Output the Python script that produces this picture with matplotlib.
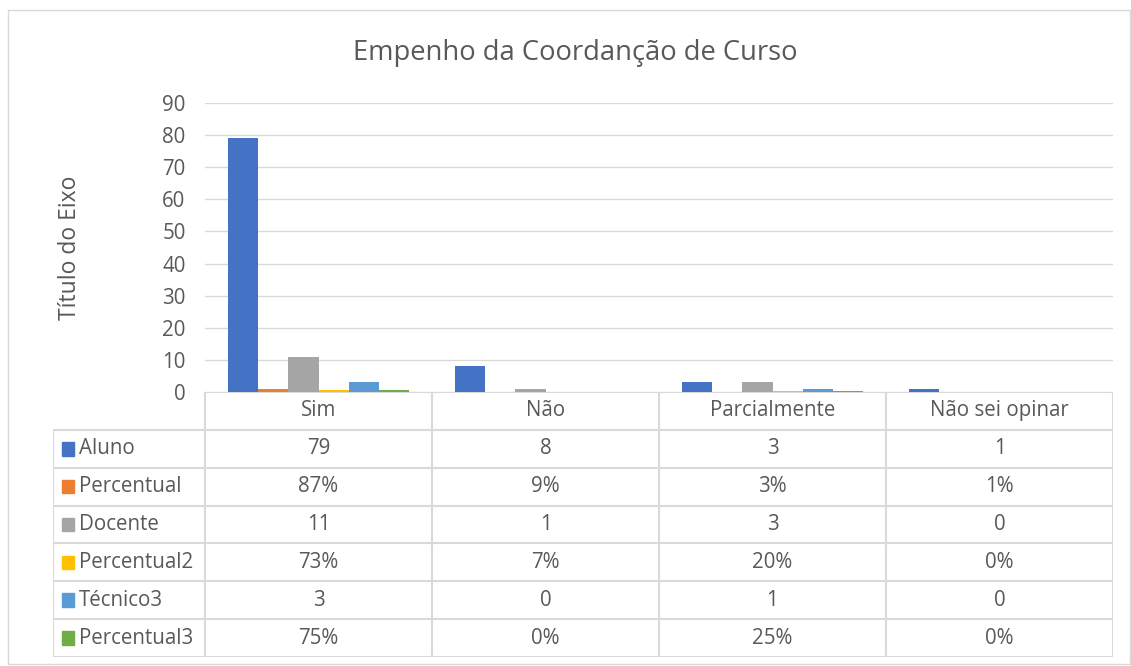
import numpy as np
import matplotlib.pyplot as plt
from matplotlib.patches import Rectangle

plt.rcParams['font.family'] = ['Open Sans', 'DejaVu Sans']

categorias = ['Sim', 'Não', 'Parcialmente', 'Não sei opinar']
series = ['Aluno', 'Percentual', 'Docente', 'Percentual2', 'Técnico3', 'Percentual3']
aluno = [79, 8, 3, 1]
percentual = [0.87, 0.09, 0.03, 0.01]
docente = [11, 1, 3, 0]
percentual2 = [0.73, 0.07, 0.20, 0.0]
tecnico3 = [3, 0, 1, 0]
percentual3 = [0.75, 0.0, 0.25, 0.0]
rotulos = [
    ['79', '8', '3', '1'],
    ['87%', '9%', '3%', '1%'],
    ['11', '1', '3', '0'],
    ['73%', '7%', '20%', '0%'],
    ['3', '0', '1', '0'],
    ['75%', '0%', '25%', '0%'],
]
cores = ['#4472C4', '#ED7D31', '#A5A5A5', '#FFC000', '#5B9BD5', '#70AD47']
valores = [aluno, percentual, docente, percentual2, tecnico3, percentual3]

W, H = 1131, 666
fig = plt.figure(figsize=(W / 100, H / 100), dpi=100)
texto = '#595959'
grade = '#d9d9d9'
fs = 14.8

# moldura do gráfico
fig.add_artist(Rectangle((8 / W, 2 / H), 1122 / W, 654 / H, transform=fig.transFigure,
                         fill=False, edgecolor=grade, lw=1))

x0, x1 = 205, 1113
y_zero, y_top = 392, 103
ax = fig.add_axes([x0 / W, (H - y_zero) / H, (x1 - x0) / W, (y_zero - y_top) / H])

x = np.arange(len(categorias))
larg = 0.133
for i, (nome, vals) in enumerate(zip(series, valores)):
    ax.bar(x + (i - 2.5) * larg, vals, larg, color=cores[i], label=nome, zorder=3)

ax.set_xlim(-0.5, len(categorias) - 0.5)
ax.set_ylim(0, 90)
ax.set_yticks(range(0, 91, 10))
ax.set_xticks([])
ax.grid(axis='y', color=grade, lw=1, zorder=0)
for s in ['top', 'right', 'left', 'bottom']:
    ax.spines[s].set_visible(False)
ax.tick_params(axis='y', length=0, labelsize=fs, labelcolor=texto, pad=14)
ax.set_ylabel('Título do Eixo', fontsize=16.5, color=texto, labelpad=58)
fig.text(575 / W, 1 - 53 / H, 'Empenho da Coordanção de Curso', ha='center', va='center',
         fontsize=19.7, color=texto)

# tabela de dados
tx0, ty1 = 53, 657
tab = fig.add_axes([tx0 / W, (H - ty1) / H, (x1 - tx0) / W, (ty1 - y_zero) / H])
esq = -0.5 - (x0 - tx0) / ((x1 - x0) / 4)
tab.set_xlim(esq, len(categorias) - 0.5)
tab.set_ylim(len(series) + 1, 0)
tab.axis('off')
n = len(series)
# linhas horizontais
tab.plot([-0.5, 3.5], [0, 0], color=grade, lw=1.5)
for r in range(1, n + 2):
    tab.plot([esq, 3.5], [r, r], color=grade, lw=1.5)
# linhas verticais
tab.plot([esq, esq], [1, n + 1], color=grade, lw=1.5)
for c in range(len(categorias) + 1):
    tab.plot([c - 0.5, c - 0.5], [0, n + 1], color=grade, lw=1.5)
for c, cat in enumerate(categorias):
    tab.text(c, 0.5, cat, ha='center', va='center', fontsize=fs, color=texto)
q = 0.052
for r, nome in enumerate(series):
    tab.add_patch(Rectangle((esq + 0.04, r + 1.5 - 0.18), q, 0.36, color=cores[r]))
    tab.text(esq + 0.04 + q + 0.022, r + 1.5, nome, ha='left', va='center', fontsize=fs, color=texto)
    for c in range(len(categorias)):
        tab.text(c, r + 1.5, rotulos[r][c], ha='center', va='center', fontsize=fs, color=texto)

fig.savefig('out.png', dpi=100)
